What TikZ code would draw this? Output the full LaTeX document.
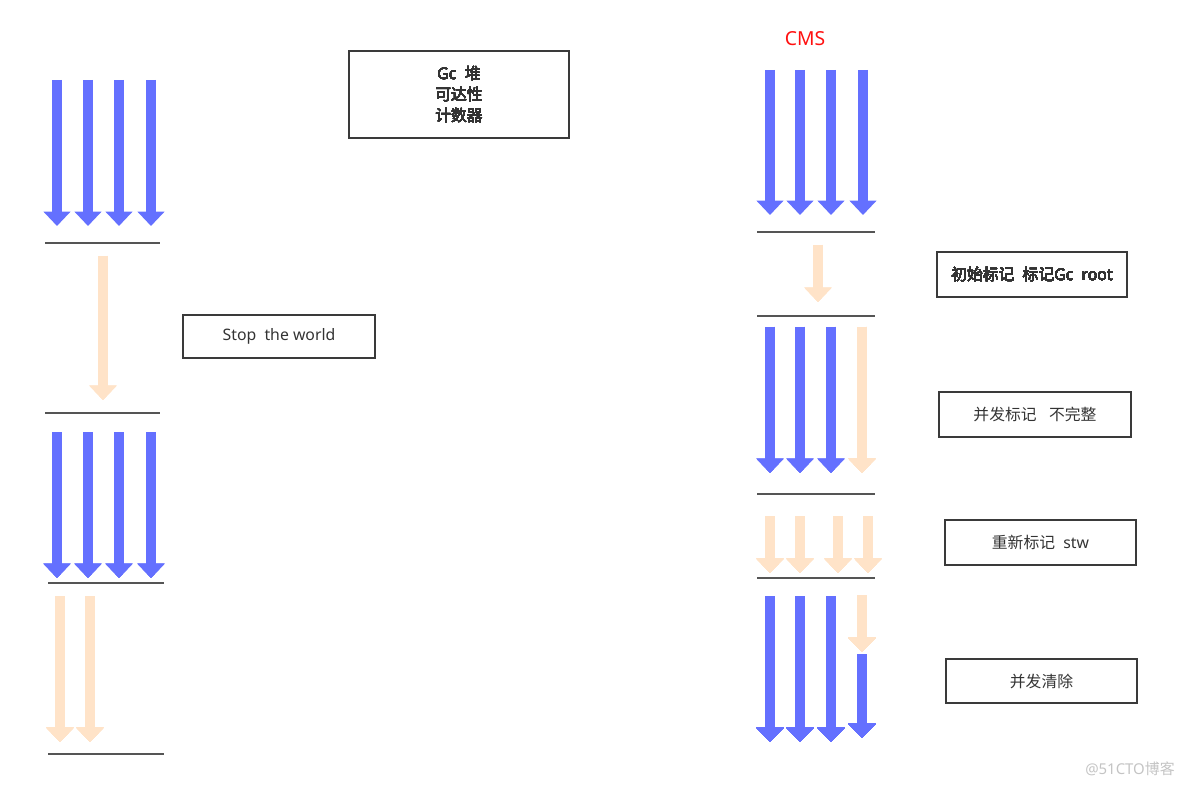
\documentclass[tikz,border=0pt]{standalone}
\usepackage{fontspec}
\setmainfont{Noto Sans}
\newfontfamily\cjk{Noto Sans CJK SC}
\usepackage{tikz}
\usetikzlibrary{arrows.meta}
\definecolor{flowblue}{HTML}{6470FF}
\definecolor{flowpeach}{HTML}{FFE3C8}
\definecolor{stageline}{HTML}{555555}
\definecolor{boxline}{HTML}{3A3A3A}
\definecolor{boxtext}{HTML}{333333}
\definecolor{cmsred}{HTML}{FF1010}
\definecolor{wmgrey}{HTML}{C4C4C4}
\newcommand{\Flow}[4]{%
  \draw[color=#4, line width=5.4pt, -{Triangle[width=15pt,length=8.2pt]}] (#1,#2) -- (#1,#3);
}
\newcommand{\Stage}[3]{%
  \draw[color=stageline, line width=0.8pt] (#1,#3) -- (#2,#3);
}
\tikzset{
  infobox/.style={draw=boxline, line width=0.8pt, text=boxtext, align=center, inner sep=0pt,
    font=\fontsize{9}{11.9}\selectfont},
}

\begin{document}
\begin{tikzpicture}[x=0.02cm, y=-0.02cm]
  \useasboundingbox (0,0) rectangle (1184,787);
  % left: stop the world
  \foreach \x in {57,88,119,151} \Flow{\x}{80}{226}{flowblue}
  \Stage{45}{160}{243}
  \Flow{103}{256}{400}{flowpeach}
  \Stage{45}{160}{413}
  \foreach \x in {57,88,119,151} \Flow{\x}{432}{578}{flowblue}
  \Stage{48}{164}{583}
  \foreach \x in {60,90} \Flow{\x}{596}{742}{flowpeach}
  \Stage{48}{164}{754}
  \node[infobox, minimum width=220*0.02cm, minimum height=87*0.02cm] (gc) at (459,94.5) {Gc\ \ {\cjk 堆}\\{\cjk 可达性}\\{\cjk 计数器}};
  \node[infobox, minimum width=192*0.02cm, minimum height=43*0.02cm] (stw) at (279,336.5) {Stop\ \ the world};
  % right: cms
  \foreach \x in {770,800,831,863} \Flow{\x}{70}{215}{flowblue}
  \Stage{757}{875}{232}
  \Flow{818}{245}{302}{flowpeach}
  \Stage{757}{875}{316}
  \foreach \x in {770,800,831} \Flow{\x}{327}{473}{flowblue}
  \Flow{862}{327}{473}{flowpeach}
  \Stage{757}{875}{494}
  \foreach \x in {770,800,838,868} \Flow{\x}{516}{573}{flowpeach}
  \Stage{757}{875}{578}
  \foreach \x in {770,800,831} \Flow{\x}{596}{742}{flowblue}
  \Flow{862}{595}{652}{flowpeach}
  \Flow{862}{654}{738}{flowblue}
  \node[infobox, minimum width=190*0.02cm, minimum height=45*0.02cm] (init) at (1032,274.5) {{\cjk 初始标记}\ \ {\cjk 标记}Gc\ \ root};
  \node[infobox, minimum width=192*0.02cm, minimum height=45*0.02cm] (conc) at (1035,414.5) {{\cjk 并发标记}\ \ \ {\cjk 不完整}};
  \node[infobox, minimum width=191*0.02cm, minimum height=45*0.02cm] (remark) at (1040.5,542.5) {{\cjk 重新标记}\ \ stw};
  \node[infobox, minimum width=191*0.02cm, minimum height=44*0.02cm] (sweep) at (1041.5,681) {{\cjk 并发清除}};
  \node[text=cmsred, font=\fontsize{11}{13}\selectfont] (cms) at (805,39) {CMS};
  % watermark
  \node[text=wmgrey, font=\fontsize{8.5}{10}\selectfont] (wm) at (1130,769) {@51CTO{\cjk 博客}};
\end{tikzpicture}
\end{document}
